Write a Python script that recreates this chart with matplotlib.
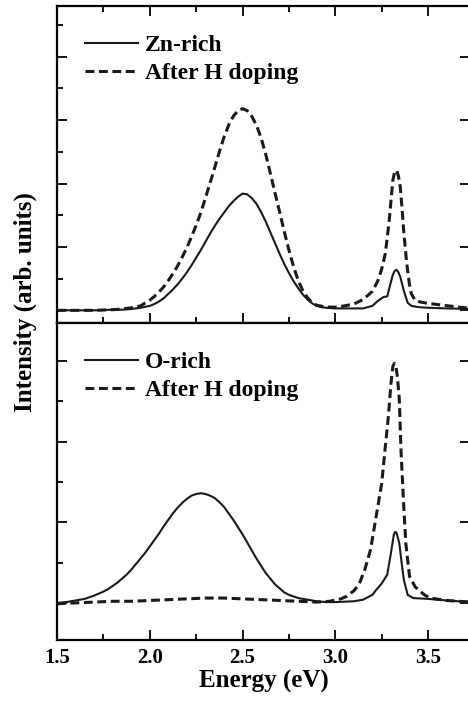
import numpy as np
import matplotlib
matplotlib.use('Agg')
import matplotlib.pyplot as plt
from matplotlib.ticker import MultipleLocator

plt.rcParams['font.family'] = ['Liberation Serif', 'DejaVu Serif']
plt.rcParams['font.weight'] = 'bold'

# top panel: Zn-rich
e_zn = [1.50, 1.60, 1.70, 1.80, 1.85, 1.90, 1.95, 2.000, 2.025, 2.050, 2.075, 2.100, 2.125,
        2.150, 2.175, 2.200, 2.225, 2.250, 2.275, 2.300, 2.325, 2.350, 2.375, 2.400, 2.425,
        2.450, 2.475, 2.500, 2.525, 2.550, 2.575, 2.600, 2.625, 2.650, 2.675, 2.700, 2.725,
        2.750, 2.775, 2.800, 2.825, 2.850, 2.875, 2.900, 2.925, 2.950,
        3.00, 3.05, 3.10, 3.15, 3.20, 3.23, 3.26, 3.28, 3.30, 3.31, 3.32, 3.33, 3.34, 3.35,
        3.37, 3.39, 3.41, 3.45, 3.50, 3.60, 3.73]
i_zn = [0.00, 0.00, 0.00, 0.01, 0.01, 0.02, 0.04, 0.07, 0.10, 0.14, 0.19, 0.26, 0.33,
        0.41, 0.50, 0.60, 0.71, 0.83, 0.95, 1.08, 1.21, 1.33, 1.44, 1.54, 1.64,
        1.72, 1.79, 1.84, 1.83, 1.77, 1.68, 1.55, 1.40, 1.23, 1.06, 0.89, 0.73,
        0.59, 0.46, 0.35, 0.25, 0.17, 0.11, 0.07, 0.05, 0.04,
        0.03, 0.03, 0.03, 0.03, 0.07, 0.15, 0.21, 0.22, 0.45, 0.56, 0.62, 0.64, 0.60, 0.53,
        0.30, 0.12, 0.07, 0.05, 0.04, 0.03, 0.02]

e_znh = [1.50, 1.60, 1.70, 1.80, 1.85, 1.90, 1.95, 2.000, 2.025, 2.050, 2.075, 2.100, 2.125,
         2.150, 2.175, 2.200, 2.225, 2.250, 2.275, 2.300, 2.325, 2.350, 2.375, 2.400, 2.425,
         2.450, 2.475, 2.500, 2.525, 2.550, 2.575, 2.600, 2.625, 2.650, 2.675, 2.700, 2.725,
         2.750, 2.775, 2.800, 2.825, 2.850, 2.875, 2.900, 2.950,
         3.00, 3.05, 3.10, 3.15, 3.20, 3.23, 3.25, 3.27, 3.29, 3.31, 3.32, 3.33, 3.34, 3.35,
         3.36, 3.37, 3.385, 3.40, 3.41, 3.43, 3.46, 3.50, 3.58, 3.73]
i_znh = [0.00, 0.00, 0.00, 0.01, 0.02, 0.04, 0.07, 0.16, 0.22, 0.29, 0.37, 0.47, 0.58,
         0.70, 0.84, 0.99, 1.16, 1.34, 1.54, 1.77, 2.01, 2.25, 2.50, 2.73, 2.92,
         3.06, 3.15, 3.18, 3.15, 3.06, 2.92, 2.72, 2.46, 2.16, 1.85, 1.55, 1.24,
         0.95, 0.69, 0.47, 0.31, 0.20, 0.12, 0.08, 0.05,
         0.05, 0.07, 0.10, 0.17, 0.30, 0.47, 0.65, 0.90, 1.40, 2.05, 2.18, 2.21, 2.12, 1.95,
         1.60, 1.20, 0.74, 0.40, 0.26, 0.16, 0.13, 0.11, 0.08, 0.03]

# bottom panel: O-rich
e_o = [1.500, 1.550, 1.600, 1.650, 1.700, 1.750, 1.775, 1.800, 1.825, 1.850, 1.875, 1.900,
       1.925, 1.950, 1.975, 2.000, 2.025, 2.050, 2.075, 2.100, 2.125, 2.150, 2.175, 2.200,
       2.225, 2.250, 2.275, 2.300, 2.325, 2.350, 2.375, 2.400, 2.425, 2.450, 2.475, 2.500,
       2.525, 2.550, 2.575, 2.600, 2.625, 2.650, 2.675, 2.700, 2.725, 2.750, 2.800, 2.850,
       2.900, 2.950, 3.00, 3.10, 3.15, 3.20, 3.22, 3.25, 3.28, 3.30, 3.315, 3.322, 3.33,
       3.345, 3.36, 3.37, 3.39, 3.42, 3.50, 3.60, 3.73]
i_o = [0.00, 0.01, 0.03, 0.05, 0.09, 0.14, 0.17, 0.21, 0.25, 0.30, 0.35, 0.41,
       0.48, 0.55, 0.62, 0.70, 0.78, 0.86, 0.95, 1.03, 1.11, 1.18, 1.24, 1.29,
       1.33, 1.35, 1.36, 1.35, 1.33, 1.30, 1.25, 1.19, 1.11, 1.03, 0.94, 0.85,
       0.75, 0.65, 0.55, 0.46, 0.37, 0.30, 0.23, 0.18, 0.13, 0.10, 0.06, 0.04,
       0.02, 0.01, 0.01, 0.02, 0.04, 0.10, 0.16, 0.24, 0.35, 0.62, 0.84, 0.88, 0.87,
       0.74, 0.45, 0.28, 0.10, 0.06, 0.05, 0.03, 0.01]

e_oh = [1.50, 1.60, 1.70, 1.80, 1.90, 2.00, 2.10, 2.20, 2.30, 2.40, 2.50, 2.60, 2.70, 2.80,
        2.90, 2.97, 3.03, 3.06, 3.10, 3.13, 3.16, 3.19, 3.22, 3.25, 3.268, 3.286, 3.30, 3.31,
        3.318, 3.327, 3.335, 3.345, 3.354, 3.367, 3.38, 3.40, 3.43, 3.45, 3.48, 3.51, 3.60, 3.73]
i_oh = [-0.01, 0.00, 0.01, 0.02, 0.02, 0.03, 0.04, 0.05, 0.06, 0.06, 0.05, 0.04, 0.03, 0.02,
        0.01, 0.02, 0.05, 0.08, 0.15, 0.24, 0.42, 0.66, 1.07, 1.48, 1.90, 2.31, 2.72, 2.93,
        2.97, 2.93, 2.80, 2.52, 1.90, 1.28, 0.74, 0.33, 0.20, 0.16, 0.10, 0.06, 0.03, 0.01]

W, H = 468, 702
fig = plt.figure(figsize=(W / 100, H / 100), dpi=100)
left = 57 / W
width = (470 - 57) / W
ax1 = fig.add_axes([left, 1 - 323 / H, width, 317 / H])
ax2 = fig.add_axes([left, 1 - 640 / H, width, 317 / H])

dash = (0, (2.9, 1.5))
ax1.plot(e_zn, i_zn, color='#1a1a1a', lw=1.5, label='Zn-rich')
ax1.plot(e_znh, i_znh, color='#1a1a1a', lw=2.2, ls=dash, label='After H doping')
ax2.plot(e_o, i_o, color='#1a1a1a', lw=1.5, label='O-rich')
ax2.plot(e_oh, i_oh, color='#1a1a1a', lw=2.2, ls=dash, label='After H doping')

ax1.set_ylim(-0.2, 4.8)
ax2.set_ylim(-0.46, 3.47)

for ax in (ax1, ax2):
    ax.set_xlim(1.5, 3.726)
    ax.xaxis.set_major_locator(MultipleLocator(0.5))
    ax.xaxis.set_minor_locator(MultipleLocator(0.25))
    ax.yaxis.set_major_locator(MultipleLocator(1))
    ax.yaxis.set_minor_locator(MultipleLocator(0.5))
    ax.tick_params(which='both', direction='in', width=1.3, right=True, labelleft=False)
    ax.tick_params(which='major', length=7)
    ax.tick_params(which='minor', length=4.5, right=False)
    for s in ax.spines.values():
        s.set_linewidth(1.6)
    ax.legend(loc='upper left', frameon=False, fontsize=17, handlelength=2.25,
              handletextpad=0.3, labelspacing=0.28, borderaxespad=0.0,
              bbox_to_anchor=(0.045, 0.94))

ax1.tick_params(which='both', top=True, labelbottom=False)
ax2.tick_params(which='both', top=False)
ax2.set_xticks([1.5, 2.0, 2.5, 3.0, 3.5])
ax2.set_xticklabels(['1.5', '2.0', '2.5', '3.0', '3.5'], fontsize=15, fontweight='bold')
ax2.tick_params(axis='x', pad=6)
ax2.set_xlabel('Energy (eV)', fontsize=18, fontweight='bold', labelpad=1)

fig.text(25 / W, 1 - 302 / H, 'Intensity (arb. units)', rotation=90, ha='center', va='center',
         fontsize=18, fontweight='bold')

fig.savefig('out.png', dpi=100)
